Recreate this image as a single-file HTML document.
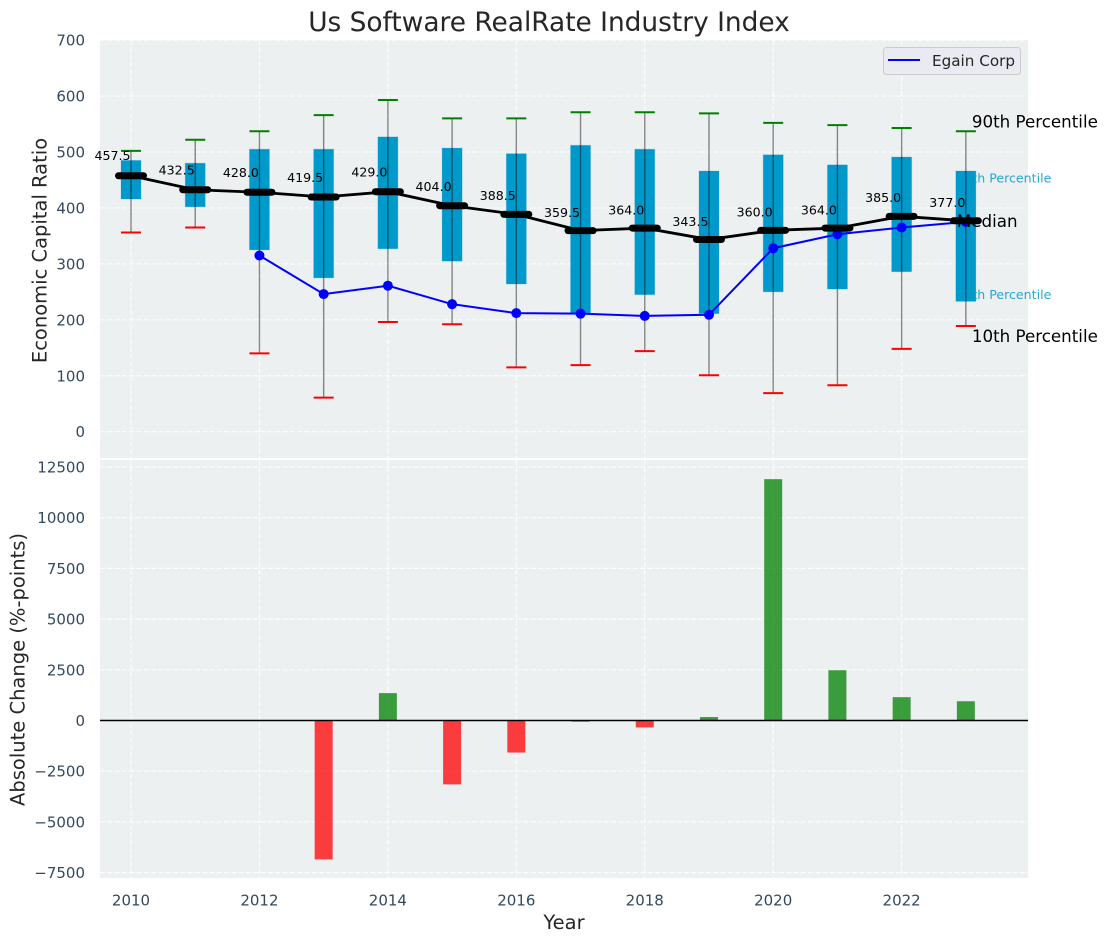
<!DOCTYPE html>
<html lang="en">
<head>
<meta charset="utf-8">
<title>Us Software RealRate Industry Index</title>
<style>
html,body{margin:0;padding:0;background:#fff;width:1107px;height:942px;overflow:hidden}
svg{display:block;font-family:"DejaVu Sans","Liberation Sans",sans-serif}
</style>
</head>
<body>
<svg id="chart" xmlns="http://www.w3.org/2000/svg" width="1107" height="942" viewBox="0 0 1107 942">
  <rect x="0" y="0" width="1107" height="942" fill="#ffffff"/>
  <text x="549" y="31" font-size="26.4" fill="#262626" text-anchor="middle">Us Software RealRate Industry Index</text>
  <rect x="100" y="40" width="928" height="418" fill="#ecf0f1"/>
  <rect x="100" y="460" width="928" height="418" fill="#ecf0f1"/>
  <g id="grid"></g>
  <g id="bottom"></g>
  <g id="annotationsBehind">
    <text id="label75" font-size="12.6" fill="#0099cc" fill-opacity="0.85">75th Percentile</text>
    <text id="label25" font-size="12.6" fill="#0099cc" fill-opacity="0.85">25th Percentile</text>
  </g>
  <g id="top"></g>
  <g id="annotationsFront">
    <text id="label90" font-size="16.7" fill="#000000">90th Percentile</text>
    <text id="labelMedian" font-size="16.7" fill="#000000">Median</text>
    <text id="label10" font-size="16.7" fill="#000000">10th Percentile</text>
  </g>
  <g id="ticks"></g>
  <text transform="translate(46.5 250.5) rotate(-90)" font-size="19.5" fill="#262626" text-anchor="middle">Economic Capital Ratio</text>
  <text transform="translate(24.5 669.5) rotate(-90)" font-size="19.5" fill="#262626" text-anchor="middle">Absolute Change (%-points)</text>
  <text x="564" y="929" font-size="19.5" fill="#262626" text-anchor="middle">Year</text>
  <g>
    <rect x="883.5" y="47.5" width="137" height="27" rx="3" fill="#eaeaf2" stroke="#cccccc"/>
    <line x1="888" y1="60" x2="920" y2="60" stroke="#0000ff" stroke-width="2"/>
    <text x="932" y="66" font-size="15.2" fill="#262626">Egain Corp</text>
  </g>
</svg>
<script>
const years = [2010,2011,2012,2013,2014,2015,2016,2017,2018,2019,2020,2021,2022,2023];
const p90 = [502,522,537,566,593,560,560,571,571,569,552,548,543,537];
const p75 = [485,480,505,505,527,507,497,512,505,466,495,477,491,466];
const median = [457.5,432.5,428,419.5,429,404,388.5,359.5,364,343.5,360,364,385,377];
const p25 = [416,402,325,275,327,305,264,212,245,211,250,255,286,233];
const p10 = [356,365,140,61,196,192,115,119,144,101,69,83,148,189];
const egain = [null,null,315,246,261,228,212,211,207,209,328,353,365,375];
const change = [null,null,null,-6850,1350,-3150,-1580,-60,-340,170,11900,2480,1150,950];
const xTicks = [2010,2012,2014,2016,2018,2020,2022];
const topTicks = [0,100,200,300,400,500,600,700];
const bottomTicks = [-7500,-5000,-2500,0,2500,5000,7500,10000,12500];

const NS = 'http://www.w3.org/2000/svg';
const x = v => 131 + (v - 2010) * 64.22;
const yTop = v => 431.7 - v * 0.5594;
const yBottom = v => 720.5 - v * 0.02028;
const X_LEFT = 100, X_RIGHT = 1028;

function make(parent, tag, attrs, content) {
  const el = document.createElementNS(NS, tag);
  for (const k in attrs) el.setAttribute(k, attrs[k]);
  if (content !== undefined) el.textContent = content;
  parent.appendChild(el);
  return el;
}
const gridG = document.getElementById('grid');
const topG = document.getElementById('top');
const bottomG = document.getElementById('bottom');
const ticksG = document.getElementById('ticks');
const gridStyle = {stroke:'#ffffff','stroke-width':1.2,'stroke-dasharray':'5.1 2.2','stroke-opacity':0.85};
const minus = v => String(v).replace('-', '\u2212');

xTicks.forEach(t => {
  [[40,458],[460,878]].forEach(r => {
    const g = make(gridG, 'line', Object.assign({x1:x(t),x2:x(t),y1:r[0],y2:r[1]}, gridStyle));
    
    
  });
  const lab = make(ticksG, 'text', {x:x(t),y:905.5,'font-size':15,fill:'#34495e','text-anchor':'middle'}, t);
  
  
});
topTicks.forEach(t => {
  const g = make(gridG, 'line', Object.assign({x1:X_LEFT,x2:X_RIGHT,y1:yTop(t),y2:yTop(t)}, gridStyle));
  
  
  const lab = make(ticksG, 'text', {x:85,y:yTop(t)+5.5,'font-size':15,fill:'#34495e','text-anchor':'end'}, t);
  
  
});
bottomTicks.forEach(t => {
  const g = make(gridG, 'line', Object.assign({x1:X_LEFT,x2:X_RIGHT,y1:yBottom(t),y2:yBottom(t)}, gridStyle));
  
  
  const lab = make(ticksG, 'text', {x:85,y:yBottom(t)+5.5,'font-size':15,fill:'#34495e','text-anchor':'end'}, minus(t));
  
  
});

/* bottom bars */
change.forEach((v, i) => {
  if (v === null) return;
  const y0 = yBottom(0), y1 = yBottom(v);
  const bar = make(bottomG, 'rect', {x:x(years[i])-9,y:Math.min(y0,y1),width:18,height:Math.abs(y1-y0),fill:v>=0?'#008000':'#ff0000','fill-opacity':0.75});
  
  
});
const zero = make(bottomG, 'line', {x1:X_LEFT,x2:X_RIGHT,y1:yBottom(0),y2:yBottom(0),stroke:'#000000','stroke-width':1.4});



/* boxes */
years.forEach((yr, i) => {
  const cx = x(yr);
  const box = make(topG, 'rect', {x:cx-10,y:yTop(p75[i]),width:20,height:yTop(p25[i])-yTop(p75[i]),fill:'#0099cc',stroke:'#0099cc','stroke-opacity':0.2,'stroke-width':1});
  
  
  const wh = make(topG, 'line', {x1:cx,x2:cx,y1:yTop(p90[i]),y2:yTop(p10[i]),stroke:'#000000','stroke-opacity':0.45,'stroke-width':1.4});
  
  
  const capHi = make(topG, 'line', {x1:cx-10,x2:cx+10,y1:yTop(p90[i]),y2:yTop(p90[i]),stroke:'#008000','stroke-width':2});
  
  
  const capLo = make(topG, 'line', {x1:cx-10,x2:cx+10,y1:yTop(p10[i]),y2:yTop(p10[i]),stroke:'#ff0000','stroke-width':2});
  
  
});

/* egain line */
const egainPts = [];
egain.forEach((v, i) => { if (v !== null) egainPts.push(x(years[i]) + ',' + yTop(v)); });
const egainLine = make(topG, 'polyline', {points:egainPts.join(' '),fill:'none',stroke:'#0000ff','stroke-width':2});


egain.forEach((v, i) => {
  if (v === null) return;
  const pt = make(topG, 'circle', {cx:x(years[i]),cy:yTop(v),r:5,fill:'#0000ff'});
  
  
});

/* median line */
const medianLine = make(topG, 'polyline', {points:median.map((v,i)=>x(years[i])+','+yTop(v)).join(' '),fill:'none',stroke:'#000000','stroke-width':2.8});


median.forEach((v, i) => {
  const cx = x(years[i]);
  const dash = make(topG, 'line', {x1:cx-12.5,x2:cx+12.5,y1:yTop(v),y2:yTop(v),stroke:'#000000','stroke-width':7,'stroke-linecap':'round'});
  
  
  const lab = make(topG, 'text', {x:cx-0.5,y:yTop(v * 1.038 + 17) + 3.5,'font-size':12.6,fill:'#000000','text-anchor':'end'}, v.toFixed(1));
  
  
});

/* end-of-series annotations */
const last = years.length - 1;
const lx = x(years[last]);
function place(id, px, py) {
  const el = document.getElementById(id);
  el.setAttribute('x', px);
  el.setAttribute('y', py);
}
place('label90', lx + 6, yTop(p90[last]) - 4);
place('label75', lx - 9.6, yTop(p75[last]) + 11.5);
place('labelMedian', lx - 9, yTop(median[last]) + 6);
place('label25', lx - 9.6, yTop(p25[last]) - 2.5);
place('label10', lx + 6, yTop(p10[last]) + 16);
</script>
</body>
</html>
